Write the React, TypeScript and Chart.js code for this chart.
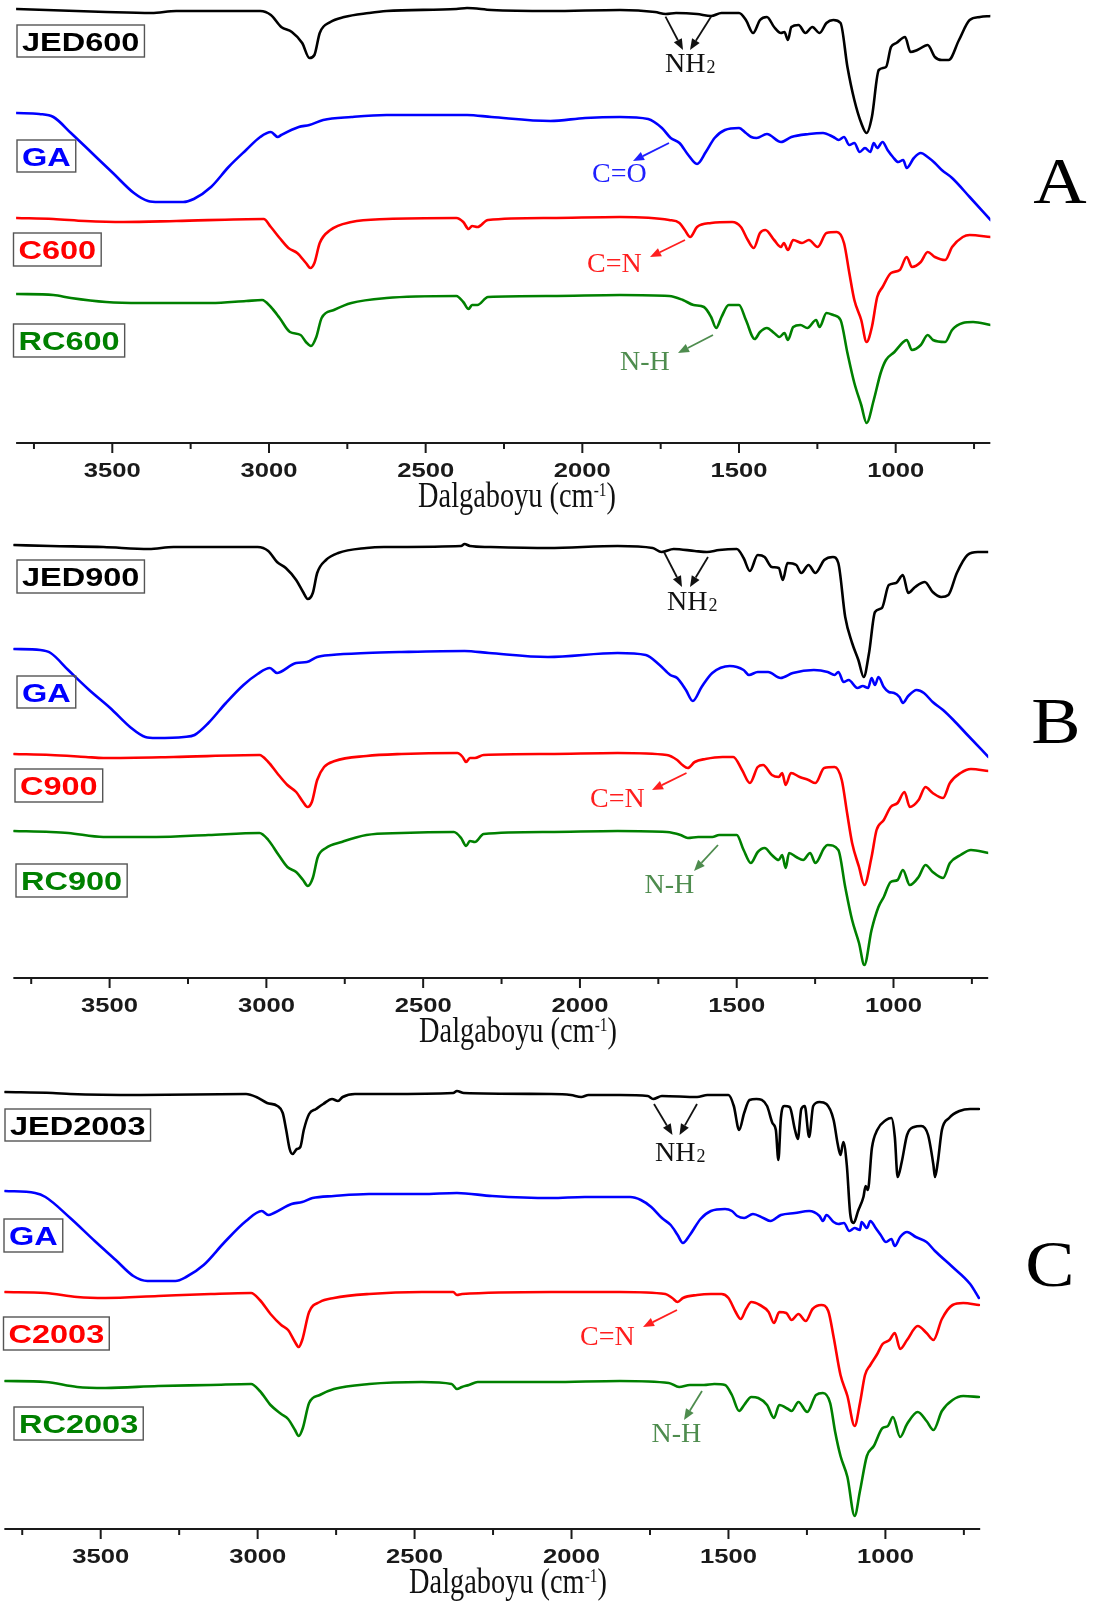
import React, { useEffect, useRef } from "react";
import { Chart, registerables } from "chart.js";
Chart.register(...registerables);

type Pt = [number, number];

// ---- Data: [wavenumber (cm-1), offset transmittance (a.u.)] ----
const JED600: Pt[] = [[3805,434],[3520,431],[3375,430],[3296,432],[3028,432],[2994,428],[2961,416],[2927,411],[2894,400],[2871,385],[2855,388],[2838,410],[2804,421],[2760,426],[2681,430],[2625,432],[2402,434],[2368,435],[2290,433],[2102,432],[1880,433],[1768,431],[1734,429],[1701,430],[1634,429],[1589,427],[1556,430],[1500,430],[1478,423],[1455,410],[1433,423],[1411,426],[1388,416],[1366,410],[1355,411],[1344,403],[1333,416],[1310,418],[1288,410],[1266,416],[1243,410],[1221,420],[1199,423],[1176,420],[1154,376],[1132,343],[1110,320],[1093,310],[1076,326],[1054,373],[1031,376],[1015,396],[998,400],[970,406],[953,391],[931,393],[898,398],[875,386],[853,383],[831,383],[798,403],[764,423],[731,426],[697,427]];
const GA_A: Pt[] = [[3805,330],[3733,329],[3688,326],[3632,310],[3565,290],[3498,270],[3431,250],[3386,242],[3352,241],[3274,241],[3240,244],[3185,256],[3129,276],[3073,293],[3028,306],[2994,311],[2972,306],[2961,308],[2905,316],[2871,318],[2827,323],[2737,326],[2625,328],[2368,328],[2290,326],[2102,322],[1991,325],[1880,326],[1790,324],[1746,315],[1718,305],[1690,300],[1662,288],[1634,279],[1606,291],[1578,305],[1545,313],[1500,315],[1478,310],[1461,306],[1444,305],[1411,309],[1366,301],[1333,306],[1277,309],[1232,310],[1199,306],[1182,303],[1165,306],[1148,298],[1132,300],[1115,291],[1098,295],[1081,291],[1070,300],[1059,295],[1042,301],[1026,293],[1009,286],[992,281],[976,283],[965,275],[942,285],[920,290],[898,286],[875,280],[853,273],[820,265],[764,246],[697,223]];
const C600: Pt[] = [[3805,225],[3688,224],[3587,222],[3464,221],[3296,222],[3017,224],[2994,216],[2966,205],[2938,195],[2910,190],[2882,180],[2868,175],[2855,180],[2838,200],[2804,213],[2737,221],[2625,224],[2402,225],[2380,221],[2363,214],[2352,217],[2335,216],[2301,223],[2102,225],[1880,226],[1723,223],[1690,220],[1673,213],[1656,206],[1634,216],[1589,220],[1522,221],[1494,216],[1472,203],[1453,195],[1433,210],[1416,213],[1388,203],[1366,196],[1357,200],[1344,193],[1327,203],[1299,200],[1277,203],[1249,196],[1221,210],[1188,211],[1165,200],[1148,170],[1132,143],[1110,123],[1093,101],[1076,116],[1059,146],[1042,156],[1015,170],[987,173],[965,186],[948,176],[920,181],[898,191],[875,186],[842,183],[820,196],[786,206],[764,208],[697,206]];
const RC600: Pt[] = [[3805,149],[3688,148],[3632,145],[3520,141],[3408,140],[3185,140],[3073,142],[3022,143],[2994,136],[2966,125],[2933,111],[2899,108],[2882,101],[2866,97],[2849,106],[2832,125],[2793,133],[2737,140],[2625,145],[2402,147],[2380,141],[2363,134],[2352,138],[2335,138],[2301,146],[2102,147],[1880,148],[1723,147],[1679,143],[1645,138],[1612,136],[1589,126],[1573,115],[1556,126],[1533,138],[1500,138],[1478,123],[1450,104],[1433,111],[1411,115],[1388,110],[1371,106],[1355,110],[1344,103],[1327,116],[1304,118],[1282,115],[1254,123],[1243,116],[1221,130],[1199,128],[1176,123],[1154,90],[1132,60],[1110,38],[1093,20],[1070,43],[1048,70],[1031,83],[1004,91],[976,101],[965,103],[948,93],[920,98],[898,108],[881,103],[842,101],[820,113],[786,120],[753,121],[697,118]];

const JED900: Pt[] = [[3805,433],[3688,432],[3520,431],[3375,429],[3296,431],[3028,431],[2994,427],[2966,416],[2938,410],[2905,398],[2883,386],[2868,379],[2852,385],[2838,405],[2810,418],[2771,425],[2681,430],[2625,431],[2379,432],[2368,434],[2351,432],[2290,431],[2102,430],[1880,432],[1768,430],[1740,426],[1701,429],[1634,427],[1595,426],[1556,428],[1500,429],[1478,420],[1458,407],[1433,423],[1411,421],[1388,411],[1366,410],[1353,398],[1338,415],[1310,413],[1294,405],[1271,413],[1249,405],[1221,418],[1193,421],[1176,415],[1154,361],[1132,335],[1112,318],[1095,301],[1078,325],[1059,366],[1037,370],[1015,393],[992,395],[970,403],[953,385],[931,391],[900,396],[875,386],[848,381],[825,383],[798,405],[764,423],[731,426],[697,426]];
const GA_B: Pt[] = [[3805,329],[3721,328],[3688,325],[3632,308],[3565,288],[3498,270],[3431,250],[3386,241],[3352,240],[3263,241],[3229,243],[3185,255],[3129,275],[3073,293],[3028,304],[2989,310],[2966,305],[2955,306],[2905,315],[2871,316],[2838,321],[2793,323],[2681,325],[2569,326],[2368,327],[2290,325],[2102,321],[1880,325],[1790,323],[1746,313],[1712,303],[1690,300],[1662,288],[1640,277],[1612,291],[1578,305],[1522,312],[1478,308],[1461,303],[1433,306],[1400,306],[1360,300],[1321,305],[1254,308],[1210,306],[1188,303],[1176,306],[1159,296],[1143,298],[1115,290],[1098,292],[1081,290],[1070,300],[1059,293],[1048,301],[1031,291],[1015,286],[998,285],[981,281],[970,275],[953,282],[926,288],[903,285],[875,276],[842,268],[809,258],[764,243],[697,221]];
const C900: Pt[] = [[3805,224],[3688,223],[3576,221],[3520,220],[3296,221],[3022,223],[2994,216],[2966,205],[2933,193],[2905,186],[2883,176],[2869,171],[2855,176],[2838,198],[2816,211],[2782,217],[2681,222],[2569,224],[2391,225],[2374,221],[2363,216],[2351,220],[2335,220],[2307,223],[2102,224],[1880,225],[1723,223],[1690,218],[1673,213],[1656,210],[1634,216],[1600,219],[1545,221],[1511,221],[1483,208],[1458,195],[1433,211],[1416,213],[1388,203],[1366,201],[1355,205],[1344,193],[1327,205],[1299,201],[1271,198],[1249,195],[1221,210],[1188,211],[1165,198],[1148,165],[1132,135],[1110,111],[1093,93],[1070,121],[1054,148],[1031,158],[1009,171],[987,175],[965,186],[948,171],[920,178],[898,191],[875,185],[842,180],[820,195],[786,205],[753,209],[697,207]];
const RC900: Pt[] = [[3805,147],[3688,146],[3632,145],[3520,141],[3352,141],[3185,143],[3022,145],[2994,138],[2961,123],[2933,111],[2905,106],[2883,98],[2868,92],[2852,100],[2836,121],[2810,130],[2760,136],[2681,143],[2569,145],[2402,146],[2379,140],[2363,132],[2351,137],[2335,136],[2307,144],[2102,146],[1880,147],[1723,146],[1679,143],[1656,140],[1623,141],[1578,141],[1556,143],[1500,143],[1478,128],[1455,115],[1433,126],[1411,130],[1388,123],[1366,118],[1355,123],[1344,110],[1333,125],[1310,121],[1288,118],[1266,125],[1249,115],[1221,130],[1210,133],[1176,128],[1154,91],[1132,58],[1110,35],[1093,13],[1070,48],[1048,71],[1031,81],[1009,96],[987,98],[970,108],[948,93],[920,101],[898,113],[875,106],[842,100],[820,115],[786,123],[753,128],[697,125]];

const JED2003: Pt[] = [[3805,437],[3653,436],[3597,435],[3373,434],[3037,435],[3004,432],[2970,426],[2937,423],[2920,416],[2909,399],[2898,380],[2889,375],[2875,380],[2864,382],[2853,399],[2836,415],[2814,420],[2791,425],[2763,430],[2744,428],[2729,432],[2690,435],[2589,435],[2377,436],[2365,438],[2343,436],[2065,435],[2002,434],[1969,432],[1946,434],[1846,434],[1757,433],[1740,430],[1712,433],[1600,432],[1567,434],[1500,434],[1483,423],[1466,399],[1450,416],[1433,429],[1411,430],[1377,423],[1360,406],[1349,399],[1341,369],[1333,411],[1322,423],[1305,422],[1288,399],[1279,390],[1268,420],[1257,423],[1243,392],[1230,423],[1210,427],[1188,425],[1165,409],[1152,385],[1143,374],[1134,387],[1123,364],[1112,315],[1101,306],[1087,318],[1070,332],[1063,343],[1056,339],[1043,381],[1026,399],[998,409],[981,411],[970,392],[961,352],[948,367],[931,394],[909,402],[886,403],[864,394],[847,364],[842,352],[833,367],[820,399],[797,411],[764,418],[730,420],[702,420]];
const GA_C: Pt[] = [[3805,338],[3709,336],[3676,332],[3597,311],[3519,288],[3452,269],[3396,253],[3351,248],[3262,248],[3228,252],[3172,264],[3105,287],[3037,308],[2987,318],[2966,314],[2948,316],[2892,325],[2858,327],[2825,331],[2757,333],[2645,335],[2477,335],[2365,336],[2253,333],[2065,331],[1958,332],[1813,332],[1779,329],[1746,322],[1712,311],[1684,304],[1662,294],[1645,286],[1623,294],[1589,310],[1556,318],[1511,320],[1489,318],[1472,313],[1450,311],[1422,315],[1389,311],[1366,308],[1333,314],[1288,316],[1243,318],[1210,313],[1199,308],[1188,314],[1165,307],[1150,305],[1132,306],[1115,298],[1098,301],[1081,299],[1076,307],[1059,301],[1048,308],[1031,301],[1015,294],[998,287],[981,290],[970,283],[953,292],[931,297],[903,292],[869,287],[842,278],[786,262],[730,245],[702,231]];
const C2003: Pt[] = [[3805,237],[3676,236],[3575,232],[3485,231],[3317,233],[3149,235],[3021,236],[2993,229],[2959,215],[2925,204],[2903,199],[2881,187],[2869,182],[2858,189],[2836,217],[2802,227],[2757,231],[2645,235],[2477,237],[2377,237],[2365,234],[2349,235],[2065,237],[1846,237],[1701,235],[1679,231],[1662,227],[1645,231],[1600,234],[1556,235],[1522,235],[1500,231],[1477,217],[1461,210],[1444,220],[1427,227],[1400,224],[1372,217],[1355,206],[1338,217],[1316,216],[1299,209],[1277,215],[1254,208],[1232,220],[1204,224],[1182,218],[1165,192],[1143,154],[1121,133],[1098,103],[1081,126],[1065,154],[1048,164],[1026,175],[1009,185],[987,189],[970,196],[953,180],[931,189],[897,203],[869,196],[847,189],[820,210],[786,224],[752,226],[702,224]];
const RC2003: Pt[] = [[3805,148],[3676,147],[3575,142],[3485,141],[3317,143],[3149,144],[3021,145],[2993,138],[2959,124],[2925,115],[2903,110],[2881,99],[2869,93],[2856,101],[2836,126],[2802,134],[2757,140],[2645,145],[2477,147],[2382,145],[2365,140],[2349,142],[2327,144],[2299,147],[2065,147],[1846,148],[1690,146],[1657,142],[1623,144],[1578,144],[1545,145],[1511,144],[1489,134],[1466,118],[1450,124],[1427,132],[1405,131],[1377,124],[1355,111],[1338,124],[1310,120],[1299,118],[1277,127],[1249,117],[1221,134],[1199,136],[1176,126],[1160,97],[1143,73],[1121,52],[1098,13],[1081,38],[1059,73],[1037,83],[1009,101],[992,103],[976,112],[953,92],[931,105],[897,117],[869,108],[847,99],[820,118],[786,129],[752,133],[702,132]];

const NAMES_A = ["JED600", "GA", "C600", "RC600"];
const NAMES_B = ["JED900", "GA", "C900", "RC900"];
const NAMES_C = ["JED2003", "GA", "C2003", "RC2003"];
const SERIES_COLORS = ["#000000", "#0000ff", "#ff0000", "#008000"];
const MAJOR_TICKS = [3500, 3000, 2500, 2000, 1500, 1000];
const MINOR_TICKS = [3750, 3250, 2750, 2250, 1750, 1250, 750];
const X_MIN = 698;
const X_MAX = 3807;
const Y_MAX = 460;
const AXIS_TITLE = "Dalgaboyu (cm";
const AXIS_SUP = "-1";

const SANS = "'Liberation Sans', Arial, sans-serif";
const SERIF = "'Liberation Serif', 'Times New Roman', serif";

type Box = { x: number; y: number; h: number };
type Annot = { text: string; sub?: string; color: string; x: number; y: number; arrows: number[][] };
type Panel = {
  series: Pt[][]; names: string[];
  axisY: number; x3500: number; x1000: number; height: number;
  boxes: Box[]; letter: string; letterX: number; letterY: number; titleX: number;
  annots: Annot[];
};

const ANN_BLACK = "#111111";
const ANN_BLUE = "#1f1fff";
const ANN_RED = "#ff1f1f";
const ANN_GREEN = "#4e8c4e";

const PANELS: Panel[] = [
  {
    series: [JED600, GA_A, C600, RC600], names: NAMES_A,
    axisY: 443, x3500: 112.3, x1000: 895.7, height: 570,
    boxes: [{ x: 17, y: 25, h: 32 }, { x: 17, y: 140, h: 32 }, { x: 13.5, y: 233, h: 33 }, { x: 13.5, y: 324, h: 33 }],
    letter: "A", letterX: 1060, letterY: 203, titleX: 517,
    annots: [
      { text: "NH", sub: "2", color: ANN_BLACK, x: 665, y: 72, arrows: [[665.5, 16.7, 683, 50], [711, 16.7, 690, 50]] },
      { text: "C=O", color: ANN_BLUE, x: 592, y: 182, arrows: [[669, 143, 633, 161]] },
      { text: "C=N", color: ANN_RED, x: 587, y: 272, arrows: [[685, 240, 650, 257]] },
      { text: "N-H", color: ANN_GREEN, x: 620, y: 370, arrows: [[713, 335, 678, 353]] },
    ],
  },
  {
    series: [JED900, GA_B, C900, RC900], names: NAMES_B,
    axisY: 978, x3500: 109.6, x1000: 893.5, height: 570,
    boxes: [{ x: 17, y: 560, h: 33 }, { x: 17, y: 676, h: 32 }, { x: 15, y: 769, h: 33 }, { x: 16, y: 864, h: 33 }],
    letter: "B", letterX: 1056, letterY: 743, titleX: 518,
    annots: [
      { text: "NH", sub: "2", color: ANN_BLACK, x: 667, y: 610, arrows: [[664, 552, 682, 587], [708, 557, 690, 587]] },
      { text: "C=N", color: ANN_RED, x: 590, y: 807, arrows: [[686.5, 773, 652, 790]] },
      { text: "N-H", color: ANN_GREEN, x: 644.5, y: 893, arrows: [[718, 845, 694, 871]] },
    ],
  },
  {
    series: [JED2003, GA_C, C2003, RC2003], names: NAMES_C,
    axisY: 1529, x3500: 100.7, x1000: 885.4, height: 540,
    boxes: [{ x: 5, y: 1109, h: 32 }, { x: 4, y: 1219, h: 33 }, { x: 3.5, y: 1317, h: 33 }, { x: 14, y: 1407, h: 33 }],
    letter: "C", letterX: 1050, letterY: 1286, titleX: 508,
    annots: [
      { text: "NH", sub: "2", color: ANN_BLACK, x: 655, y: 1161, arrows: [[654, 1104, 672.5, 1135], [697, 1104, 679.5, 1135]] },
      { text: "C=N", color: ANN_RED, x: 580, y: 1345, arrows: [[677, 1310, 643, 1327]] },
      { text: "N-H", color: ANN_GREEN, x: 651.5, y: 1442, arrows: [[702, 1391, 684, 1420]] },
    ],
  },
];

function drawText(ctx: CanvasRenderingContext2D, text: string, x: number, y: number, font: string, color: string, sx = 1, align: CanvasTextAlign = "left") {
  ctx.save();
  ctx.font = font;
  ctx.fillStyle = color;
  ctx.textAlign = align;
  ctx.textBaseline = "alphabetic";
  ctx.translate(x, y);
  ctx.scale(sx, 1);
  ctx.fillText(text, 0, 0);
  ctx.restore();
}

function drawArrow(ctx: CanvasRenderingContext2D, a: number[], color: string) {
  const [x1, y1, x2, y2] = a;
  const ang = Math.atan2(y2 - y1, x2 - x1);
  const hl = 11, hw = 4.5;
  const bx = x2 - hl * Math.cos(ang), by = y2 - hl * Math.sin(ang);
  ctx.save();
  ctx.strokeStyle = color;
  ctx.fillStyle = color;
  ctx.lineWidth = 1.8;
  ctx.beginPath();
  ctx.moveTo(x1, y1);
  ctx.lineTo(bx, by);
  ctx.stroke();
  ctx.beginPath();
  ctx.moveTo(x2, y2);
  ctx.lineTo(bx + hw * Math.sin(ang), by - hw * Math.cos(ang));
  ctx.lineTo(bx - hw * Math.sin(ang), by + hw * Math.cos(ang));
  ctx.closePath();
  ctx.fill();
  ctx.restore();
}

function makeOverlay(p: Panel) {
  return {
    id: "overlay",
    afterDraw(chart: any) {
      const ctx: CanvasRenderingContext2D = chart.ctx;
      const xs = chart.scales.x;
      const top = p.axisY - Y_MAX;
      const ca = chart.chartArea;
      ctx.save();
      ctx.translate(0, -top);
      const ay = p.axisY;
      // axis line
      ctx.strokeStyle = "#1a1a1a";
      ctx.lineWidth = 2;
      ctx.beginPath();
      ctx.moveTo(ca.left, ay);
      ctx.lineTo(ca.right, ay);
      ctx.stroke();
      // ticks
      ctx.lineWidth = 2;
      for (const t of MAJOR_TICKS) {
        const x = xs.getPixelForValue(t);
        ctx.beginPath(); ctx.moveTo(x, ay); ctx.lineTo(x, ay + 10); ctx.stroke();
        drawText(ctx, String(t), x, ay + 34, `bold 21px ${SANS}`, "#1a1a1a", 1.22, "center");
      }
      for (const t of MINOR_TICKS) {
        const x = xs.getPixelForValue(t);
        ctx.beginPath(); ctx.moveTo(x, ay); ctx.lineTo(x, ay + 6); ctx.stroke();
      }
      // axis title with superscript
      const sx = 0.81;
      ctx.font = `35px ${SERIF}`;
      const w1 = ctx.measureText(AXIS_TITLE).width;
      const w3 = ctx.measureText(")").width;
      ctx.font = `19px ${SERIF}`;
      const w2 = ctx.measureText(AXIS_SUP).width;
      const total = (w1 + w2 + w3) * sx;
      let tx = p.titleX - total / 2;
      const ty = ay + 64;
      drawText(ctx, AXIS_TITLE, tx, ty, `35px ${SERIF}`, "#111", sx);
      tx += w1 * sx;
      drawText(ctx, AXIS_SUP, tx, ty - 11, `19px ${SERIF}`, "#111", sx);
      tx += w2 * sx;
      drawText(ctx, ")", tx, ty, `35px ${SERIF}`, "#111", sx);
      // label boxes
      p.boxes.forEach((b, i) => {
        const font = `bold 26px ${SANS}`;
        ctx.font = font;
        const tw = ctx.measureText(p.names[i]).width * 1.25;
        const bw = tw + 10;
        ctx.strokeStyle = "#555";
        ctx.lineWidth = 1.4;
        ctx.strokeRect(b.x, b.y, bw, b.h);
        drawText(ctx, p.names[i], b.x + 5, b.y + b.h / 2 + 9.5, font, SERIES_COLORS[i], 1.25);
      });
      // annotations
      for (const a of p.annots) {
        for (const ar of a.arrows) drawArrow(ctx, ar, a.color);
        const f = `28px ${SERIF}`;
        drawText(ctx, a.text, a.x, a.y, f, a.color);
        if (a.sub) {
          ctx.font = f;
          const w = ctx.measureText(a.text).width;
          drawText(ctx, a.sub, a.x + w + 1, a.y + 1, `18px ${SERIF}`, a.color);
        }
      }
      // panel letter
      drawText(ctx, p.letter, p.letterX, p.letterY, `66px ${SERIF}`, "#000", 1.12, "center");
      ctx.restore();
    },
  };
}

function PanelChart({ panel }: { panel: Panel }) {
  const ref = useRef<HTMLCanvasElement>(null);
  useEffect(() => {
    if (!ref.current) return;
    const s = (panel.x1000 - panel.x3500) / 2500;
    const left = panel.x3500 - (X_MAX - 3500) * s;
    const right = panel.x1000 + (1000 - X_MIN) * s;
    const chart = new Chart(ref.current, {
      type: "line",
      data: {
        datasets: panel.series.map((d, i) => ({
          label: panel.names[i],
          data: d.map(([x, y]) => ({ x, y })),
          borderColor: SERIES_COLORS[i],
          backgroundColor: SERIES_COLORS[i],
          borderWidth: 2.6,
          borderJoinStyle: "round" as const,
          borderCapStyle: "round" as const,
          pointRadius: 0,
          cubicInterpolationMode: "monotone" as const,
          fill: false,
        })),
      },
      options: {
        animation: false,
        responsive: false,
        maintainAspectRatio: false,
        events: [],
        layout: { padding: { left, right: 1099 - right, top: 0, bottom: panel.height - Y_MAX } },
        scales: {
          x: { type: "linear", reverse: true, min: X_MIN, max: X_MAX, display: false },
          y: { type: "linear", min: 0, max: Y_MAX, display: false },
        },
        plugins: { legend: { display: false }, tooltip: { enabled: false }, title: { display: false } },
      },
      plugins: [makeOverlay(panel)],
    } as any);
    return () => chart.destroy();
  }, [panel]);
  return (
    <canvas
      ref={ref}
      width={1099}
      height={panel.height}
      style={{ position: "absolute", left: 0, top: panel.axisY - Y_MAX, width: 1099, height: panel.height }}
    />
  );
}

export default function App() {
  return (
    <div style={{ position: "absolute", left: 0, top: 0, width: 1099, height: 1609, background: "#fff", overflow: "hidden" }}>
      {PANELS.map((p, i) => (
        <PanelChart key={i} panel={p} />
      ))}
    </div>
  );
}
